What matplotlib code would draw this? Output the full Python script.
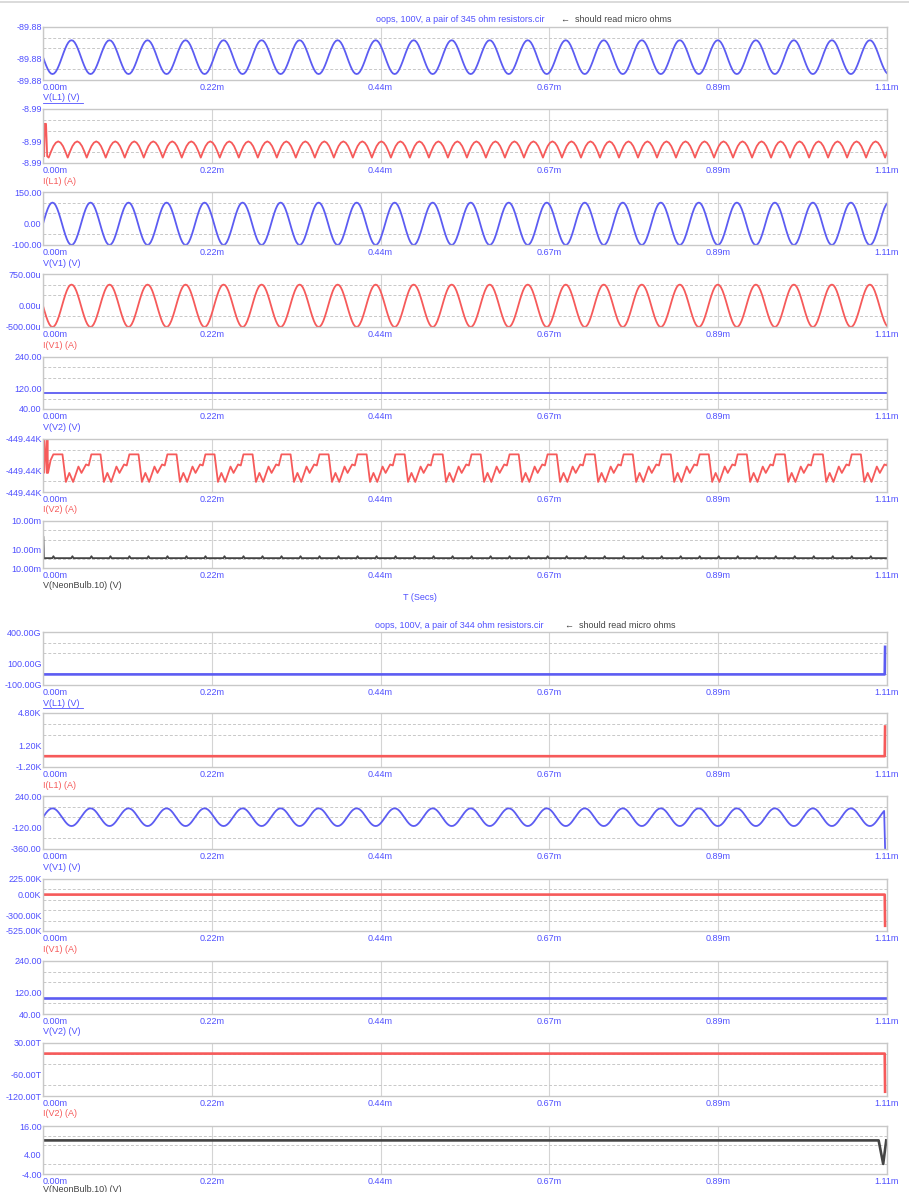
import numpy as np
import matplotlib.pyplot as plt
from matplotlib.lines import Line2D

plt.rcParams['font.family'] = ['Liberation Sans', 'DejaVu Sans']

# time axis (ms)
t_end = 1.11
period = 0.05
x_ticks = [0.0, 0.222, 0.444, 0.666, 0.888, 1.11]
x_tick_labels = ['0.00m', '0.22m', '0.44m', '0.67m', '0.89m', '1.11m']

# one cycle of the sine traces (normalised)
sine_cycle = [0, 0.26, 0.5, 0.71, 0.87, 0.97, 1, 0.97, 0.87, 0.71, 0.5, 0.26,
              0, -0.26, -0.5, -0.71, -0.87, -0.97, -1, -0.97, -0.87, -0.71, -0.5, -0.26]
# one bump of I(L1) (half period)
bump_cycle = [0, 0.38, 0.71, 0.92, 1.0, 0.92, 0.71, 0.38]

# ---- first run: 345 ohm ----
g1_names = ['V(L1) (V)', 'I(L1) (A)', 'V(V1) (V)', 'I(V1) (A)', 'V(V2) (V)', 'I(V2) (A)', 'V(NeonBulb.10) (V)']
g1_ylims = [(-89.884, -89.876), (-8.994, -8.986), (-100, 150), (-500e-6, 750e-6), (40, 240), (0, 1), (0, 1)]
g1_yticks = [[-89.876, -89.8808, -89.884], [-8.986, -8.9908, -8.994], [150, 0, -100],
             [750e-6, 0, -500e-6], [240, 120, 40], [1, 0.4, 0], [1, 0.4, 0]]
g1_ylabels = [['-89.88'] * 3, ['-8.99'] * 3, ['150.00', '0.00', '-100.00'],
              ['750.00u', '0.00u', '-500.00u'], ['240.00', '120.00', '40.00'],
              ['-449.44K'] * 3, ['10.00m'] * 3]

vl1_mid = -89.88055
vl1_amp = -0.00255
il1_low = -8.9932
il1_high = -8.9908
il1_start_t = [0.0, 0.0005, 0.0015, 0.0025, 0.004, 0.0055, 0.0075]
il1_start_v = [-8.9908, -8.9882, -8.9930, -8.9882, -8.9882, -8.9930, -8.9932]
vv1_amp = 100
iv1_amp = -500e-6
vv2_level = 100
iv2_start_t = [0.0, 0.0006, 0.0012, 0.0018, 0.005, 0.0058, 0.0066, 0.0100]
iv2_start_v = [0.36, 1.0, 0.36, 1.0, 0.36, 1.0, 0.36, 0.60]
iv2_phase = [0.0, 0.24, 0.33, 0.42, 0.52, 0.66, 0.74, 0.86, 0.93]
iv2_vals = [0.71, 0.71, 0.19, 0.36, 0.19, 0.48, 0.36, 0.52, 0.50]
iv2_t0 = 0.0136
neon_start_t = [0.0, 0.0005, 0.0012]
neon_start_v = [0.67, 0.67, 0.21]
neon_phase = [0.0, 0.44, 0.5, 0.56]
neon_vals = [0.21, 0.21, 0.25, 0.21]

# ---- second run: 344 ohm ----
g2_names = g1_names
g2_ylims = [(-100, 400), (-1.2, 4.8), (-360, 240), (-525, 225), (40, 240), (-120, 30), (-4, 16)]
g2_yticks = [[400, 100, -100], [4.8, 1.2, -1.2], [240, -120, -360], [225, 0, -300, -525],
             [240, 120, 40], [30, -60, -120], [16, 4, -4]]
g2_ylabels = [['400.00G', '100.00G', '-100.00G'], ['4.80K', '1.20K', '-1.20K'],
              ['240.00', '-120.00', '-360.00'], ['225.00K', '0.00K', '-300.00K', '-525.00K'],
              ['240.00', '120.00', '40.00'], ['30.00T', '-60.00T', '-120.00T'],
              ['16.00', '4.00', '-4.00']]
g2_vl1_t = [0.0, 1.107, 1.1075]
g2_vl1_v = [0, 0, 260]
g2_il1_t = [0.0, 1.107, 1.1075]
g2_il1_v = [0, 0, 3.3]
g2_vv1_end_t = [1.1075]
g2_vv1_end_v = [-355]
g2_iv1_t = [0.0, 1.107, 1.1075]
g2_iv1_v = [0, 0, -450]
g2_vv2_t = [0.0, 1.11]
g2_vv2_v = [100, 100]
g2_iv2_t = [0.0, 1.107, 1.1075]
g2_iv2_v = [0, 0, -108]
g2_neon_t = [0.0, 1.099, 1.105, 1.109]
g2_neon_v = [10, 10, 0.2, 10]


def tile(phase, vals, per, t0, n):
    t, v = [], []
    for k in range(n):
        t += [t0 + (k + p) * per for p in phase]
        v += list(vals)
    return np.array(t), np.array(v)


sine_phase = [i / len(sine_cycle) for i in range(len(sine_cycle))]
bump_phase = [i / len(bump_cycle) for i in range(len(bump_cycle))]
st, sv = tile(sine_phase, sine_cycle, period, 0.0, 24)
bt, bv = tile(bump_phase, bump_cycle, period / 2, il1_start_t[-1], 46)
it, iv = tile(iv2_phase, iv2_vals, period, iv2_t0, 24)
nt, nv = tile(neon_phase, neon_vals, period / 2, 0.0012, 46)

g1_series = [
    (st, vl1_mid + vl1_amp * sv),
    (np.r_[il1_start_t, bt], np.r_[il1_start_v, il1_low + (il1_high - il1_low) * bv]),
    (st, vv1_amp * sv),
    (st, iv1_amp * sv),
    ([0.0, t_end], [vv2_level, vv2_level]),
    (np.r_[iv2_start_t, it], np.r_[iv2_start_v, iv]),
    (np.r_[neon_start_t, nt[nt > 0.0012]], np.r_[neon_start_v, nv[nt > 0.0012]]),
]
keep = st < 1.107
g2_series = [
    (g2_vl1_t, g2_vl1_v),
    (g2_il1_t, g2_il1_v),
    (np.r_[st[keep], g2_vv1_end_t], np.r_[100 * sv[keep], g2_vv1_end_v]),
    (g2_iv1_t, g2_iv1_v),
    (g2_vv2_t, g2_vv2_v),
    (g2_iv2_t, g2_iv2_v),
    (g2_neon_t, g2_neon_v),
]

BLUE = '#5c5cf2'
RED = '#f65a5a'
DARK = '#444444'
TXT = '#5050ff'
colors = [BLUE, RED, BLUE, RED, BLUE, RED, DARK]
label_colors = [TXT, RED, TXT, RED, TXT, RED, DARK]

W, H = 909, 1192
fig = plt.figure(figsize=(W / 100, H / 100), dpi=100)
left, right = 43, 887
tops1 = [27, 109, 192, 274, 357, 439, 521]
hts1 = [53, 54, 53, 53, 52, 53, 47]
tops2 = [632, 713, 796, 879, 961, 1043, 1126]
hts2 = [53, 54, 53, 52, 53, 53, 48]


def panel(top, h, series, ylim, yt, ylab, name, col, lcol, lw, underline=False, name_off=18):
    ax = fig.add_axes([left / W, 1 - (top + h) / H, (right - left) / W, h / H])
    ax.plot(series[0], series[1], color=col, lw=lw, solid_joinstyle='round')
    ax.set_xlim(0, t_end)
    ax.set_ylim(*ylim)
    ax.set_xticks(x_ticks, x_tick_labels)
    ax.set_yticks(yt, ylab)
    ax.set_yticks(np.linspace(ylim[0], ylim[1], 6), minor=True)
    ax.tick_params(which='both', length=0)
    ax.tick_params(axis='x', pad=2.5, labelsize=6.5, labelcolor=TXT)
    ax.tick_params(axis='y', pad=1, labelsize=6.5, labelcolor=TXT)
    ax.xaxis.get_majorticklabels()[0].set_ha('left')
    ax.grid(axis='x', which='major', color='#d4d4d4', lw=0.8)
    ax.grid(axis='y', which='minor', color='#c8c8c8', lw=0.7, ls=(0, (3, 2)))
    ax.set_axisbelow(True)
    for s in ax.spines.values():
        s.set_color('#c8c8c8')
        s.set_linewidth(1.0)
    ax.annotate(name, xy=(0, 0), xycoords='axes fraction', xytext=(0, -name_off * 0.72),
                textcoords='offset points', va='center', ha='left', fontsize=6.5, color=lcol)
    if underline:
        yy = 1 - (top + h + name_off + 4.5) / H
        fig.add_artist(Line2D([left / W, (left + 40) / W], [yy, yy], color=lcol, lw=0.6))
    return ax


for i in range(7):
    panel(tops1[i], hts1[i], g1_series[i], g1_ylims[i], g1_yticks[i], g1_ylabels[i],
          g1_names[i], colors[i], label_colors[i], 1.3, underline=(i == 0))
    lw2 = 1.3 if i == 2 else 1.9
    panel(tops2[i], hts2[i], g2_series[i], g2_ylims[i], g2_yticks[i], g2_ylabels[i],
          g2_names[i], colors[i], label_colors[i], lw2, underline=(i == 0),
          name_off=(15 if i == 6 else 18))

fig.text(376 / W, 1 - 19 / H, 'oops, 100V, a pair of 345 ohm resistors.cir', color=TXT,
         fontsize=6.5, ha='left', va='center')
fig.text(561 / W, 1 - 19 / H, '\u2190  should read micro ohms', color=DARK,
         fontsize=6.5, ha='left', va='center')
fig.text(420 / W, 1 - 598 / H, 'T (Secs)', color=TXT, fontsize=6.5, ha='center', va='center')
fig.text(375 / W, 1 - 625 / H, 'oops, 100V, a pair of 344 ohm resistors.cir', color=TXT,
         fontsize=6.5, ha='left', va='center')
fig.text(565 / W, 1 - 625 / H, '\u2190  should read micro ohms', color=DARK,
         fontsize=6.5, ha='left', va='center')
fig.add_artist(Line2D([0, 1], [1 - 1.5 / H] * 2, color='#d4d4d4', lw=1.2))

fig.savefig('out.png', dpi=100)
